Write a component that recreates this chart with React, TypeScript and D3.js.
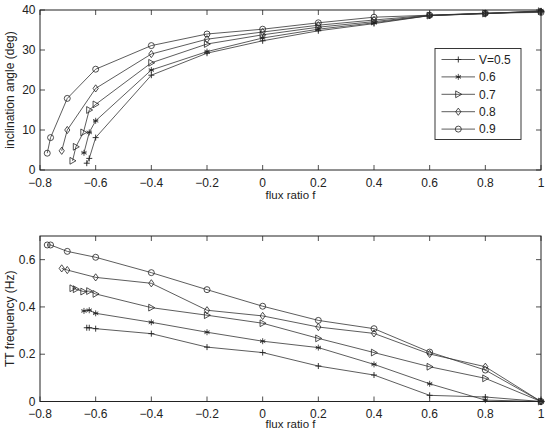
import * as d3 from "d3";
import { useEffect, useRef } from "react";

// series labels and marker types
const seriesLabels = ["V=0.5", "0.6", "0.7", "0.8", "0.9"];
const markerTypes = ["plus", "star", "triangle", "diamond", "circle"];

// flux ratio f for each series (shared by both panels)
const fluxV05 = [-0.632, -0.623, -0.6, -0.4, -0.2, 0, 0.2, 0.4, 0.6, 0.8, 1];
const fluxV06 = [-0.642, -0.623, -0.6, -0.4, -0.2, 0, 0.2, 0.4, 0.6, 0.8, 1];
const fluxV07 = [-0.683, -0.671, -0.644, -0.623, -0.6, -0.4, -0.2, 0, 0.2, 0.4, 0.6, 0.8, 1];
const fluxV08 = [-0.722, -0.702, -0.6, -0.4, -0.2, 0, 0.2, 0.4, 0.6, 0.8, 1];
const fluxV09 = [-0.774, -0.762, -0.702, -0.6, -0.4, -0.2, 0, 0.2, 0.4, 0.6, 0.8, 1];

// inclination angle (deg)
const angleV05 = [1.7, 2.9, 8.1, 23.7, 29.2, 32.3, 34.8, 36.6, 38.6, 39.2, 39.6];
const angleV06 = [4.3, 9.4, 12.3, 25, 29.6, 33, 35.2, 36.8, 38.6, 39.1, 39.8];
const angleV07 = [2.3, 5.8, 9.4, 15, 16.4, 26.8, 31.5, 33.8, 35.7, 37.1, 38.6, 39.1, 39.7];
const angleV08 = [4.8, 10, 20.4, 29, 32.7, 34.5, 36.2, 37.5, 38.7, 39.1, 39.6];
const angleV09 = [4.2, 8.1, 17.9, 25.2, 31.1, 34, 35.2, 36.8, 38.2, 38.7, 39.2, 39.4];

// TT frequency (Hz)
const freqV05 = [0.312, 0.312, 0.308, 0.287, 0.23, 0.207, 0.15, 0.112, 0.026, 0.019, 0];
const freqV06 = [0.383, 0.386, 0.373, 0.335, 0.293, 0.255, 0.228, 0.157, 0.075, 0.006, 0];
const freqV07 = [0.479, 0.475, 0.465, 0.467, 0.455, 0.397, 0.365, 0.331, 0.267, 0.207, 0.147, 0.098, 0];
const freqV08 = [0.563, 0.556, 0.525, 0.5, 0.386, 0.362, 0.315, 0.288, 0.201, 0.147, 0];
const freqV09 = [0.662, 0.662, 0.635, 0.61, 0.545, 0.473, 0.403, 0.343, 0.308, 0.209, 0.133, 0];

const xTicks = [-0.8, -0.6, -0.4, -0.2, 0, 0.2, 0.4, 0.6, 0.8, 1];
const angleTicks = [0, 10, 20, 30, 40];
const freqTicks = [0, 0.2, 0.4, 0.6];

const fluxes = [fluxV05, fluxV06, fluxV07, fluxV08, fluxV09];
const angles = [angleV05, angleV06, angleV07, angleV08, angleV09];
const freqs = [freqV05, freqV06, freqV07, freqV08, freqV09];

const FONT = "Liberation Sans, Arial, sans-serif";
const INK = "#222";
const FS = 12;

const fmt = (v: number) => String(v).replace("-", "\u2212");

function drawMarker(g: d3.Selection<SVGGElement, unknown, null, undefined>, type: string, x: number, y: number) {
  if (type === "circle") {
    g.append("circle").attr("cx", x).attr("cy", y).attr("r", 3).attr("fill", "none").attr("stroke", INK).attr("stroke-width", 0.8);
  } else if (type === "diamond") {
    g.append("path").attr("d", `M${x},${y - 3.6}L${x + 2.6},${y}L${x},${y + 3.6}L${x - 2.6},${y}Z`)
      .attr("fill", "none").attr("stroke", INK).attr("stroke-width", 0.8);
  } else if (type === "triangle") {
    g.append("path").attr("d", `M${x + 3.4},${y}L${x - 2.6},${y - 3.4}L${x - 2.6},${y + 3.4}Z`)
      .attr("fill", "none").attr("stroke", INK).attr("stroke-width", 0.8);
  } else if (type === "plus") {
    g.append("path").attr("d", `M${x - 3},${y}H${x + 3}M${x},${y - 3}V${y + 3}`)
      .attr("stroke", INK).attr("stroke-width", 0.9);
  } else if (type === "star") {
    const r = 3;
    const d = [0, 60, 120].map(a => {
      const rad = (a * Math.PI) / 180 + Math.PI / 2;
      return `M${x - r * Math.cos(rad)},${y - r * Math.sin(rad)}L${x + r * Math.cos(rad)},${y + r * Math.sin(rad)}`;
    }).join("") + `M${x - 2.6},${y}H${x + 2.6}`;
    g.append("path").attr("d", d).attr("stroke", INK).attr("stroke-width", 0.8);
  }
}

const App = () => {
  const svgRef = useRef<SVGSVGElement>(null);

  useEffect(() => {
    if (!svgRef.current) return;
    const svg = d3.select(svgRef.current);
    svg.selectAll("*").remove();

    const x = d3.scaleLinear().domain([-0.8, 1]).range([40, 541]);

    const panels = [
      { y: d3.scaleLinear().domain([0, 40]).range([170, 10]), ys: angles, ticks: angleTicks, label: "inclination angle (deg)", legend: true, xl: 29 },
      { y: d3.scaleLinear().domain([0, 0.7]).range([401.5, 236]), ys: freqs, ticks: freqTicks, label: "TT frequency (Hz)", legend: false, xl: 26.5 },
    ];

    panels.forEach(p => {
      const g = svg.append("g");
      const [y0, y1] = p.y.range();
      const [x0, x1] = x.range();

      // series
      fluxes.forEach((fs, si) => {
        const pts = fs.map((f, i) => [x(f), p.y(p.ys[si][i])] as [number, number]);
        g.append("path")
          .attr("d", d3.line()(pts))
          .attr("fill", "none")
          .attr("stroke", "#333")
          .attr("stroke-width", 0.8);
        pts.forEach(([px, py]) => drawMarker(g, markerTypes[si], px, py));
      });

      // frame
      g.append("rect")
        .attr("x", x0).attr("y", y1).attr("width", x1 - x0).attr("height", y0 - y1)
        .attr("fill", "none").attr("stroke", INK).attr("stroke-width", 1);

      // x ticks
      xTicks.forEach(t => {
        const tx = x(t);
        g.append("line").attr("x1", tx).attr("x2", tx).attr("y1", y0).attr("y2", y0 - 5).attr("stroke", INK).attr("stroke-width", 0.8);
        g.append("line").attr("x1", tx).attr("x2", tx).attr("y1", y1).attr("y2", y1 + 5).attr("stroke", INK).attr("stroke-width", 0.8);
        g.append("text").attr("x", tx).attr("y", y0 + 16.5).attr("text-anchor", "middle")
          .attr("font-family", FONT).attr("font-size", FS).attr("fill", INK).text(fmt(t));
      });

      // y ticks
      p.ticks.forEach(t => {
        const ty = p.y(t);
        g.append("line").attr("x1", x0).attr("x2", x0 + 5).attr("y1", ty).attr("y2", ty).attr("stroke", INK).attr("stroke-width", 0.8);
        g.append("line").attr("x1", x1).attr("x2", x1 - 5).attr("y1", ty).attr("y2", ty).attr("stroke", INK).attr("stroke-width", 0.8);
        g.append("text").attr("x", x0 - 4.5).attr("y", ty + 4).attr("text-anchor", "end")
          .attr("font-family", FONT).attr("font-size", FS).attr("fill", INK).text(fmt(t));
      });

      // axis labels
      g.append("text").attr("x", (x0 + x1) / 2).attr("y", y0 + p.xl).attr("text-anchor", "middle")
        .attr("font-family", FONT).attr("font-size", 11.5).attr("fill", INK).text("flux ratio f");
      g.append("text")
        .attr("transform", `translate(13.5,${(y0 + y1) / 2}) rotate(-90)`)
        .attr("text-anchor", "middle")
        .attr("font-family", FONT).attr("font-size", FS).attr("fill", INK).text(p.label);

      if (p.legend) {
        const lg = g.append("g");
        lg.append("rect").attr("x", 435).attr("y", 48.5).attr("width", 86).attr("height", 91)
          .attr("fill", "#fff").attr("stroke", INK).attr("stroke-width", 0.9);
        seriesLabels.forEach((lab, i) => {
          const ly = 59.5 + i * 17.4;
          lg.append("line").attr("x1", 441.5).attr("x2", 475).attr("y1", ly).attr("y2", ly)
            .attr("stroke", "#333").attr("stroke-width", 0.8);
          drawMarker(lg, markerTypes[i], 458.3, ly);
          lg.append("text").attr("x", 479).attr("y", ly + 4.3)
            .attr("font-family", FONT).attr("font-size", FS).attr("fill", INK).text(lab);
        });
      }
    });
  }, []);

  return (
    <svg
      ref={svgRef}
      width={548}
      height={430}
      style={{ position: "absolute", left: 0, top: 0, background: "#fff" }}
    />
  );
};

export default App;
